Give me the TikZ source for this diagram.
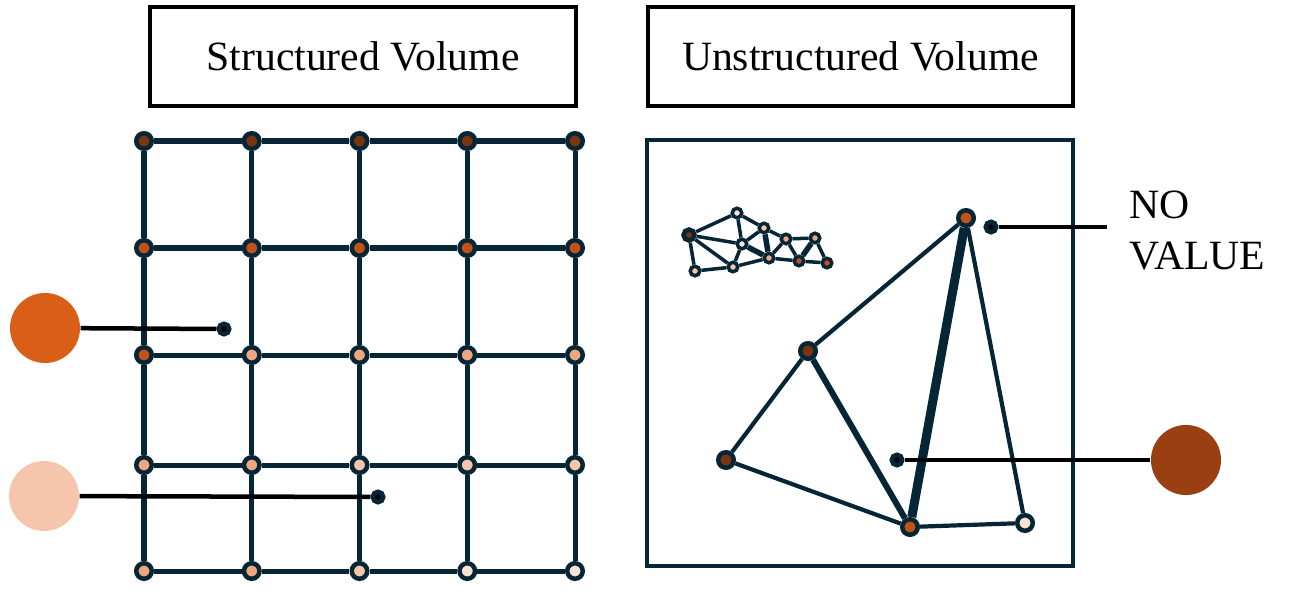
\documentclass[tikz,border=0pt]{standalone}
\usepackage{fontspec}
\setmainfont{Liberation Serif}
\usetikzlibrary{positioning}

\definecolor{navy}{HTML}{062535}
\definecolor{vbrown}{HTML}{7B3410}
\definecolor{vorange}{HTML}{C0521A}
\definecolor{vpeach}{HTML}{EDA67D}
\definecolor{vlight}{HTML}{F6C6AA}
\definecolor{vpale}{HTML}{FBE2D2}
\definecolor{keyorange}{HTML}{D95F18}
\definecolor{keylight}{HTML}{F5C6AC}
\definecolor{keybrown}{HTML}{9A3F12}

\tikzset{
  vtx/.style={circle, draw=navy, line width=0.045cm, minimum size=0.155cm, inner sep=0pt},
  tinyvtx/.style={circle, draw=navy, line width=0.035cm, minimum size=0.095cm, inner sep=0pt},
  edge/.style={navy, line width=0.05cm},
  thinedge/.style={navy, line width=0.035cm},
  keydot/.style={circle, minimum size=0.70cm, inner sep=0pt},
  pointer/.style={circle, fill=black, draw=navy, line width=0.045cm, minimum size=0.105cm, inner sep=0pt},
  lead/.style={black, line width=0.045cm},
  titlebox/.style={draw=black, line width=0.04cm, minimum width=4.25cm, minimum height=0.98cm},
  txt/.style={font=\fontsize{11.85pt}{14.5pt}\selectfont}
}

\begin{document}
\begin{tikzpicture}[x=0.01cm, y=-0.01cm]
  \useasboundingbox (0,0) rectangle (1296,594);

  % titles
  \node[titlebox, txt] (ttlS) at (363,56.5) {Structured Volume};
  \node[titlebox, txt] (ttlU) at (860.5,56.5) {Unstructured Volume};

  % structured grid
  \foreach \fillc [count=\j] in {vbrown,vbrown,vbrown,vbrown,vbrown}
    \node[vtx, fill=\fillc] (g1\j) at ({144+107.75*(\j-1)},141) {};
  \foreach \fillc [count=\j] in {vorange,vorange,vorange,vorange,vorange}
    \node[vtx, fill=\fillc] (g2\j) at ({144+107.75*(\j-1)},248) {};
  \foreach \fillc [count=\j] in {vorange,vpeach,vpeach,vpeach,vpeach}
    \node[vtx, fill=\fillc] (g3\j) at ({144+107.75*(\j-1)},355) {};
  \foreach \fillc [count=\j] in {vpeach,vpeach,vlight,vlight,vlight}
    \node[vtx, fill=\fillc] (g4\j) at ({144+107.75*(\j-1)},465) {};
  \foreach \fillc [count=\j] in {vpeach,vpeach,vlight,vpale,vpale}
    \node[vtx, fill=\fillc] (g5\j) at ({144+107.75*(\j-1)},571) {};

  \foreach \i in {1,2,3,4,5}
    \foreach \j/\k in {1/2,2/3,3/4,4/5} {
      \draw[edge] (g\i\j) -- (g\i\k);
      \draw[edge] (g\j\i) -- (g\k\i);
    }

  % keys for the grid
  \node[keydot, fill=keyorange] (keyO) at (45,328) {};
  \node[pointer] (ptrO) at (224,329) {};
  \draw[lead] (keyO) -- (ptrO);
  \node[keydot, fill=keylight] (keyL) at (44,496) {};
  \node[pointer] (ptrL) at (378,497) {};
  \draw[lead] (keyL) -- (ptrL);

  % unstructured frame
  \draw[navy, line width=0.035cm] (647,140) rectangle (1073,566);

  % fine mesh
  \node[tinyvtx, fill=vbrown, minimum size=0.11cm, line width=0.045cm] (mA) at (689,235) {};
  \node[tinyvtx, fill=vpale] (mB) at (737,213) {};
  \node[tinyvtx, fill=vlight] (mC) at (764,228) {};
  \node[tinyvtx, fill=vpale] (mD) at (742,244) {};
  \node[tinyvtx, fill=vlight] (mE) at (695,271) {};
  \node[tinyvtx, fill=vlight] (mF) at (733,267) {};
  \node[tinyvtx, fill=vpeach] (mG) at (769,258) {};
  \node[tinyvtx, fill=vpeach] (mH) at (786,239) {};
  \node[tinyvtx, fill=vpeach] (mI) at (815,238) {};
  \node[tinyvtx, fill=vorange] (mJ) at (799,261) {};
  \node[tinyvtx, fill=vorange] (mK) at (827,263) {};
  \foreach \a/\b in {mA/mB, mA/mD, mA/mF, mA/mE, mE/mF, mF/mD, mB/mD, mB/mC,
                     mD/mC, mF/mG, mC/mH, mH/mG, mG/mJ, mH/mJ, mH/mI, mI/mK, mJ/mK}
    \draw[thinedge] (\a) -- (\b);
  \foreach \a/\b in {mC/mG, mD/mG, mI/mJ}
    \draw[navy, line width=0.055cm] (\a) -- (\b);

  % coarse mesh
  \node[vtx, fill=vorange] (pTop) at (966,218) {};
  \node[vtx, fill=vbrown] (pMid) at (808,351) {};
  \node[vtx, fill=vbrown] (pLeft) at (726,460) {};
  \node[vtx, fill=vorange] (pBot) at (910,527) {};
  \node[vtx, fill=vpale] (pRight) at (1025,523) {};
  \draw[edge, line width=0.042cm] (pMid) -- (pTop);
  \draw[edge, line width=0.042cm] (pMid) -- (pLeft);
  \draw[edge, line width=0.042cm] (pLeft) -- (pBot);
  \draw[edge, line width=0.042cm] (pTop) -- (pRight);
  \draw[edge, line width=0.042cm] (pBot) -- (pRight);
  \draw[edge, line width=0.06cm] (pMid) -- (pBot);
  \draw[edge, line width=0.09cm] (pBot) -- (pTop);

  % keys for the mesh
  \node[pointer] (ptrN) at (991,227) {};
  \coordinate (noEnd) at (1107,227);
  \draw[lead] (ptrN) -- (noEnd);
  \node[txt, align=left, right=0.1cm of noEnd, yshift=-0.04cm] (noVal) {NO\\VALUE};
  \node[pointer] (ptrB) at (897,460) {};
  \node[keydot, fill=keybrown] (keyB) at (1186,460) {};
  \draw[lead] (ptrB) -- (keyB);
\end{tikzpicture}
\end{document}
